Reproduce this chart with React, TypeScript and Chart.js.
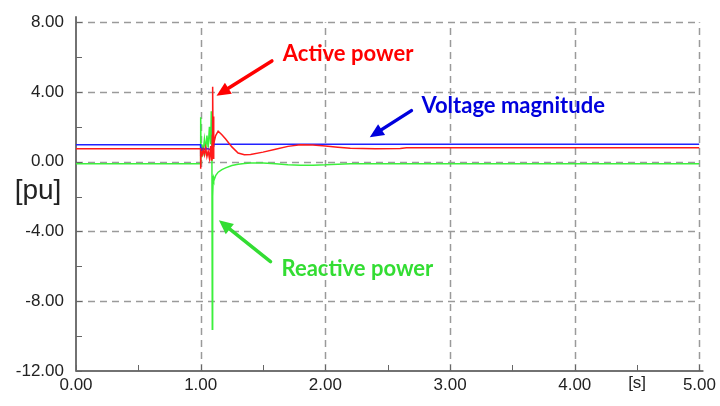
import React, { useEffect, useRef } from "react";
import { Chart, registerables } from "chart.js";

Chart.register(...registerables);

// ---- data ----
const timeS = [0, 0.999, 1.0, 1.003, 1.01, 1.02, 1.03, 1.04, 1.05, 1.06, 1.07, 1.08, 1.085, 1.09, 1.093, 1.096, 1.1, 1.103, 1.106, 1.11, 1.12, 1.14, 1.17, 1.2, 1.25, 1.3, 1.35, 1.4, 1.5, 1.6, 1.7, 1.8, 1.9, 2.0, 2.1, 2.2, 2.4, 2.6, 2.65, 3.0, 4.0, 5.0];
const activePower = [0.75, 0.75, -0.4, 0.6, 0.3, 0.7, 0.4, 0.8, 0.3, 0.6, 0.2, 0.9, 0.1, 0.2, 1.5, 4.3, 0.2, 2.6, 1.0, 1.2, 1.5, 1.75, 1.55, 1.3, 0.85, 0.5, 0.4, 0.42, 0.55, 0.72, 0.88, 0.97, 0.96, 0.9, 0.83, 0.77, 0.74, 0.76, 0.8, 0.8, 0.8, 0.8];
const voltageMag = [0.98, 0.98, 0.7, 0.8, 0.7, 0.75, 0.7, 0.8, 0.72, 0.75, 0.7, 0.75, 0.6, 0.2, 0.5, 2.4, 0.9, 1.1, 0.95, 1.0, 1.0, 1.0, 1.0, 1.0, 1.0, 1.0, 1.0, 1.0, 1.0, 1.0, 1.0, 1.0, 1.0, 1.0, 1.0, 1.0, 1.0, 1.0, 1.0, 1.0, 1.0, 1.0];
const reactivePower = [-0.12, -0.12, 2.55, 0.3, 1.0, 0.6, 1.3, 0.7, 1.5, 0.8, 2.0, 1.0, 2.9, 0.5, -9.6, -2.0, -1.0, -1.1, -0.9, -1.0, -0.8, -0.6, -0.45, -0.35, -0.22, -0.15, -0.1, -0.08, -0.08, -0.12, -0.18, -0.2, -0.2, -0.18, -0.14, -0.12, -0.12, -0.12, -0.12, -0.12, -0.12, -0.12];

const xMajorTicks = [0, 1, 2, 3, 4, 5];
const xMinorTicks = [0.5, 1.5, 2.5, 3.5, 4.5];
const yMajorTicks = [8, 4, 0, -4, -8, -12];
const yMinorTicks = [6, 2, -2, -6, -10];

// annotations
const annotationLabels = ["Active power", "Voltage magnitude", "Reactive power"];
const annotationText = [[1.659, 5.78], [2.77, 2.77], [1.648, -6.55]];
const annotationArrows = [[1.571, 5.78, 1.127, 3.78], [2.69, 2.93, 2.356, 1.41], [1.56, -5.73, 1.146, -3.36]];
const annotationColors = ["#ff0000", "#0000dd", "#33dd33"];

const RED = "#ff1a1a";
const BLUE = "#2222ff";
const GREEN = "#3cf03c";

const toPts = (ys: number[]) => ys.map((y, i) => ({ x: timeS[i], y }));

const decorPlugin = {
  id: "decor",
  beforeDatasetsDraw(chart: any) {
    const { ctx, chartArea, scales } = chart;
    const xs = scales.x;
    const ys = scales.y;
    ctx.save();
    ctx.strokeStyle = "#9a9a9a";
    ctx.lineWidth = 1.5;
    ctx.setLineDash([7, 5]);
    for (const v of xMajorTicks) {
      if (v === 0) continue;
      const px = Math.round(xs.getPixelForValue(v)) + 0.5;
      ctx.beginPath();
      ctx.moveTo(px, chartArea.bottom);
      ctx.lineTo(px, chartArea.top);
      ctx.stroke();
    }
    for (const v of yMajorTicks) {
      if (v === -12) continue;
      const py = Math.round(ys.getPixelForValue(v)) + 0.5;
      ctx.beginPath();
      ctx.moveTo(chartArea.left, py);
      ctx.lineTo(chartArea.right, py);
      ctx.stroke();
    }
    ctx.setLineDash([]);
    ctx.strokeStyle = "#444";
    ctx.lineWidth = 1.5;
    ctx.beginPath();
    ctx.moveTo(chartArea.left, chartArea.top - 6);
    ctx.lineTo(chartArea.left, chartArea.bottom);
    ctx.lineTo(chartArea.right + 4, chartArea.bottom);
    ctx.stroke();
    ctx.lineWidth = 1;
    ctx.strokeStyle = "#666";
    for (const v of [...xMinorTicks, ...xMajorTicks]) {
      const px = Math.round(xs.getPixelForValue(v)) + 0.5;
      ctx.beginPath();
      ctx.moveTo(px, chartArea.bottom);
      ctx.lineTo(px, chartArea.bottom - 6);
      ctx.stroke();
    }
    for (const v of [...yMinorTicks, ...yMajorTicks]) {
      const py = Math.round(ys.getPixelForValue(v)) + 0.5;
      ctx.beginPath();
      ctx.moveTo(chartArea.left, py);
      ctx.lineTo(chartArea.left + 6, py);
      ctx.stroke();
    }
    ctx.restore();
  },
  afterDatasetsDraw(chart: any) {
    const { ctx, chartArea, scales } = chart;
    const xs = scales.x;
    const ys = scales.y;
    ctx.save();
    ctx.fillStyle = "#222";
    ctx.font = "28px 'Liberation Sans', Arial, sans-serif";
    ctx.textAlign = "center";
    ctx.textBaseline = "middle";
    ctx.fillText("[pu]", chartArea.left - 38, ys.getPixelForValue(-1.72));
    ctx.font = "17px 'Liberation Sans', Arial, sans-serif";
    ctx.textBaseline = "top";
    ctx.fillText("[s]", xs.getPixelForValue(4.5), chartArea.bottom + 4);
    for (let i = 0; i < annotationLabels.length; i++) {
      const col = annotationColors[i];
      const [tx, ty, hx, hy] = annotationArrows[i];
      const x1 = xs.getPixelForValue(tx);
      const y1 = ys.getPixelForValue(ty);
      const x2 = xs.getPixelForValue(hx);
      const y2 = ys.getPixelForValue(hy);
      const ang = Math.atan2(y2 - y1, x2 - x1);
      const headLen = 14;
      const headW = 6.5;
      const bx = x2 - headLen * Math.cos(ang);
      const by = y2 - headLen * Math.sin(ang);
      ctx.strokeStyle = col;
      ctx.fillStyle = col;
      ctx.lineWidth = 3.5;
      ctx.lineCap = "round";
      ctx.beginPath();
      ctx.moveTo(x1, y1);
      ctx.lineTo(bx, by);
      ctx.stroke();
      ctx.beginPath();
      ctx.moveTo(x2, y2);
      ctx.lineTo(bx + headW * Math.sin(ang), by - headW * Math.cos(ang));
      ctx.lineTo(bx - headW * Math.sin(ang), by + headW * Math.cos(ang));
      ctx.closePath();
      ctx.fill();
      ctx.font = "bold 22px Lato, 'Open Sans', sans-serif";
      ctx.textAlign = "left";
      ctx.textBaseline = "alphabetic";
      ctx.fillText(annotationLabels[i], xs.getPixelForValue(annotationText[i][0]), ys.getPixelForValue(annotationText[i][1]));
    }
    ctx.restore();
  },
};

export default function App() {
  const ref = useRef<HTMLCanvasElement | null>(null);
  useEffect(() => {
    if (!ref.current) return;
    const tickFont = { family: "'Liberation Sans', Arial, sans-serif", size: 17 };
    const chart = new Chart(ref.current, {
      type: "line",
      data: {
        datasets: [
          { label: "Active power", data: toPts(activePower), borderColor: RED, borderWidth: 1.5, pointRadius: 0, tension: 0 },
          { label: "Voltage magnitude", data: toPts(voltageMag), borderColor: BLUE, borderWidth: 1.5, pointRadius: 0, tension: 0 },
          { label: "Reactive power", data: toPts(reactivePower), borderColor: GREEN, borderWidth: 1.5, pointRadius: 0, tension: 0 },
        ],
      },
      options: {
        animation: false,
        responsive: false,
        devicePixelRatio: 1,
        layout: { padding: { top: 19, right: 20, left: 0, bottom: 0 } },
        plugins: { legend: { display: false }, tooltip: { enabled: false } },
        scales: {
          x: {
            type: "linear",
            min: 0,
            max: 5,
            grid: { display: false, drawTicks: false },
            border: { display: false },
            ticks: { stepSize: 1, padding: 4, color: "#222", font: tickFont, maxRotation: 0, callback: (v: any) => Number(v).toFixed(2) },
            afterFit: (s: any) => { s.height = 35; },
          },
          y: {
            type: "linear",
            min: -12,
            max: 8,
            grid: { display: false, drawTicks: false },
            border: { display: false },
            ticks: { stepSize: 4, padding: 12, color: "#222", font: tickFont, callback: (v: any) => Number(v).toFixed(2) },
            afterFit: (s: any) => { s.width = 76; },
          },
        },
      },
      plugins: [decorPlugin],
    });
    return () => chart.destroy();
  }, []);
  return (
    <div style={{ position: "absolute", left: 0, top: 0, width: 720, height: 406, background: "#fff" }}>
      <canvas ref={ref} width={720} height={406} style={{ display: "block" }} />
    </div>
  );
}
